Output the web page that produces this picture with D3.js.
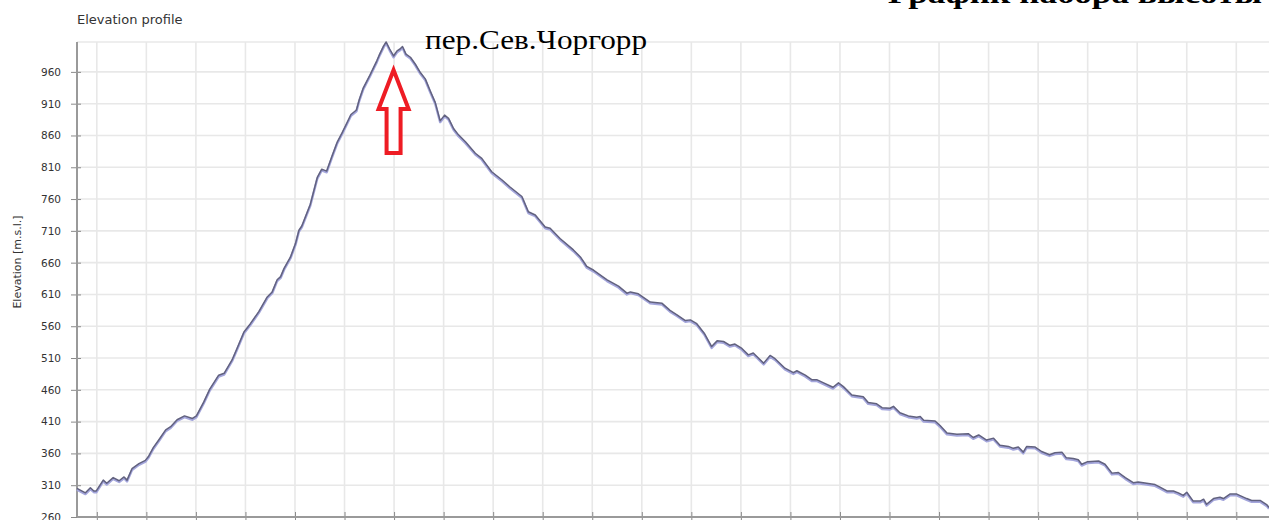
<!DOCTYPE html>
<html>
<head>
<meta charset="utf-8">
<script src="https://cdn.jsdelivr.net/npm/d3@7"></script>
<style>
  body { margin: 0; background: #fff; }
  svg { display: block; }
</style>
</head>
<body>
<div id="graph"></div>
<script>
let width = 1269, height = 520;

// distance along the track (km) and elevation (m)
let distKm = [0.60,0.77,0.87,0.94,0.99,1.13,1.20,1.33,1.45,1.55,
  1.61,1.71,1.85,1.98,2.05,2.14,2.25,2.39,2.49,2.62,
  2.77,2.93,3.01,3.16,3.28,3.46,3.57,3.73,3.83,3.97,
  4.10,4.27,4.44,4.54,4.64,4.71,4.78,4.91,5.01,5.08,
  5.14,5.31,5.45,5.54,5.64,5.75,5.85,5.95,6.05,6.13,
  6.24,6.30,6.38,6.52,6.60,6.65,6.71,6.79,6.84,6.91,
  6.99,7.06,7.12,7.17,7.24,7.33,7.43,7.53,7.63,7.73,
  7.83,7.93,8.02,8.10,8.20,8.30,8.44,8.64,8.77,8.97,
  9.18,9.34,9.58,9.71,9.85,10.05,10.15,10.35,10.62,10.76,
  10.89,11.03,11.30,11.53,11.70,11.77,11.93,12.17,12.41,12.57,
  12.71,12.88,12.98,13.11,13.26,13.41,13.52,13.65,13.78,13.88,
  14.02,14.15,14.25,14.46,14.59,14.69,14.89,15.06,15.13,15.30,
  15.43,15.53,15.67,15.86,15.97,16.07,16.24,16.47,16.57,16.74,
  16.85,17.01,17.08,17.21,17.38,17.55,17.62,17.69,17.92,18.02,
  18.16,18.36,18.59,18.69,18.80,18.96,19.10,19.23,19.40,19.50,
  19.60,19.70,19.77,19.94,20.07,20.23,20.34,20.48,20.57,20.71,
  20.81,20.88,21.00,21.22,21.35,21.49,21.62,21.76,21.92,22.02,
  22.19,22.36,22.46,22.60,22.73,22.83,22.93,23.00,23.13,23.27,
  23.34,23.40,23.54,23.67,23.74,23.87,24.01,24.21,24.31,24.48,
  24.62,24.66];

let elevM = [305,298,306,301,301,318,313,322,317,323,
  318,336,344,349,356,369,381,397,402,413,
  419,415,419,441,461,483,486,507,525,551,
  564,583,606,614,633,638,651,669,690,711,
  718,752,794,807,804,828,849,864,880,893,
  900,917,935,956,969,977,988,1001,1007,996,
  985,993,996,1000,988,983,972,959,949,930,
  912,883,892,887,871,861,850,832,824,803,
  790,779,764,740,735,716,714,698,680,669,
  654,648,633,623,612,614,611,598,596,585,
  578,569,570,564,549,528,537,536,530,532,
  525,515,518,502,514,509,494,487,490,483,
  476,476,471,464,471,465,452,449,440,438,
  432,431,434,424,419,417,418,412,411,404,
  392,390,391,385,389,381,384,373,371,368,
  370,362,371,370,363,358,361,362,353,352,
  350,343,347,348,343,329,330,322,314,315,
  313,311,307,301,301,298,294,299,285,285,
  288,280,289,291,289,296,296,289,286,286,
  279,275];

let yTicks = [260,310,360,410,460,510,560,610,660,710,760,810,860,910,960];
let xTicks = d3.range(1, 25);

let chartTitle = "Elevation profile";
let yTitle = "Elevation [m.s.l.]";
let passLabel = "пер.Сев.Чоргорр";
let pageTitle = "График набора высоты";
let passKm = 6.99; // where the arrow points

let data = distKm.map((d, i) => ({km: d, elev: elevM[i]}));

let svg = d3.select("#graph").append("svg")
    .attr("width", width)
    .attr("height", height);

let plotLeft = 77, plotTop = 42, plotBottom = 517;

let x = d3.scaleLinear().domain([0.6, 24.66]).range([plotLeft, width]);
let y = d3.scaleLinear().domain([260, 1007]).range([plotBottom, plotTop]);

// Grid
let grid = svg.append("g").attr("id", "grid");
grid.selectAll(".hgrid")
  .data(yTicks.concat([1007]))
  .enter().append("line")
  .attr("x1", plotLeft).attr("x2", width + 30)
  .attr("y1", d => y(d)).attr("y2", d => y(d))
  .attr("stroke", "#e8e8e8")
  .attr("stroke-width", 1.6);

grid.selectAll(".vgrid")
  .data(xTicks)
  .enter().append("line")
  .attr("x1", d => x(d)).attr("x2", d => x(d))
  .attr("y1", plotTop).attr("y2", plotBottom)
  .attr("stroke", "#e8e8e8")
  .attr("stroke-width", 1.6);

// Y axis
let yAxis = svg.append("g")
  .attr("transform", "translate(" + plotLeft + ",0)")
  .call(d3.axisLeft(y).tickValues(yTicks).tickSize(6).tickPadding(10));
yAxis.select(".domain").remove();
yAxis.selectAll(".tick line")
  .attr("x2", 4).attr("x1", -6)
  .attr("stroke", "#8a8a8a");
yAxis.selectAll(".tick text")
  .attr("x", -16)
  .style("font-family", "DejaVu Sans")
  .style("font-size", "10.5px")
  .attr("fill", "#333");

// X axis (labels fall below the picture)
let xAxis = svg.append("g")
  .attr("transform", "translate(0," + plotBottom + ")")
  .call(d3.axisBottom(x).tickValues(xTicks).tickSize(5).tickFormat(""));
xAxis.select(".domain").remove();
xAxis.selectAll(".tick line").attr("y1", -5).attr("stroke", "#8a8a8a");

// axis lines
svg.append("line")
  .attr("x1", plotLeft).attr("x2", plotLeft)
  .attr("y1", plotTop).attr("y2", plotBottom)
  .attr("stroke", "#9a9a9a").attr("stroke-width", 2);
svg.append("line")
  .attr("x1", plotLeft).attr("x2", width)
  .attr("y1", plotBottom).attr("y2", plotBottom)
  .attr("stroke", "#9a9a9a").attr("stroke-width", 2);

// Profile line with its light shadow
let line = d3.line().x(d => x(d.km)).y(d => y(d.elev));

svg.append("path")
  .datum(data)
  .attr("d", line)
  .attr("transform", "translate(0,1.3)")
  .attr("fill", "none")
  .attr("stroke", "#a4a6dc")
  .attr("stroke-width", 2.4)
  .attr("stroke-linejoin", "round");

svg.append("path")
  .datum(data)
  .attr("d", line)
  .attr("fill", "none")
  .attr("stroke", "#62627f")
  .attr("stroke-width", 1.5)
  .attr("stroke-linejoin", "round");

// Titles
svg.append("text")
  .attr("x", plotLeft).attr("y", 24)
  .style("font-family", "DejaVu Sans")
  .style("font-size", "13px")
  .attr("fill", "#333")
  .text(chartTitle);

svg.append("text")
  .attr("transform", "translate(21," + 262 + ") rotate(-90)")
  .attr("text-anchor", "middle")
  .style("font-family", "DejaVu Sans")
  .style("font-size", "11px")
  .attr("fill", "#333")
  .text(yTitle);

svg.append("text")
  .attr("x", 888).attr("y", 3)
  .attr("textLength", 374)
  .attr("lengthAdjust", "spacingAndGlyphs")
  .style("font-family", "Liberation Serif")
  .style("font-weight", "bold")
  .style("font-size", "28px")
  .attr("fill", "#000")
  .text(pageTitle);

svg.append("text")
  .attr("x", 425).attr("y", 49)
  .attr("textLength", 222)
  .attr("lengthAdjust", "spacingAndGlyphs")
  .style("font-family", "Liberation Serif")
  .style("font-size", "28px")
  .attr("fill", "#000")
  .text(passLabel);

// Red arrow pointing at the pass
let ax = x(passKm), ay = 70;
let arrow = [[0,0],[-15,39],[-7,39],[-7,83],[7,83],[7,39],[15,39]];
svg.append("path")
  .attr("d", "M" + arrow.map(p => (ax + p[0]) + "," + (ay + p[1])).join("L") + "Z")
  .attr("fill", "#fff")
  .attr("stroke", "#ee1c24")
  .attr("stroke-width", 4)
  .attr("stroke-linejoin", "miter");
</script>
</body>
</html>
